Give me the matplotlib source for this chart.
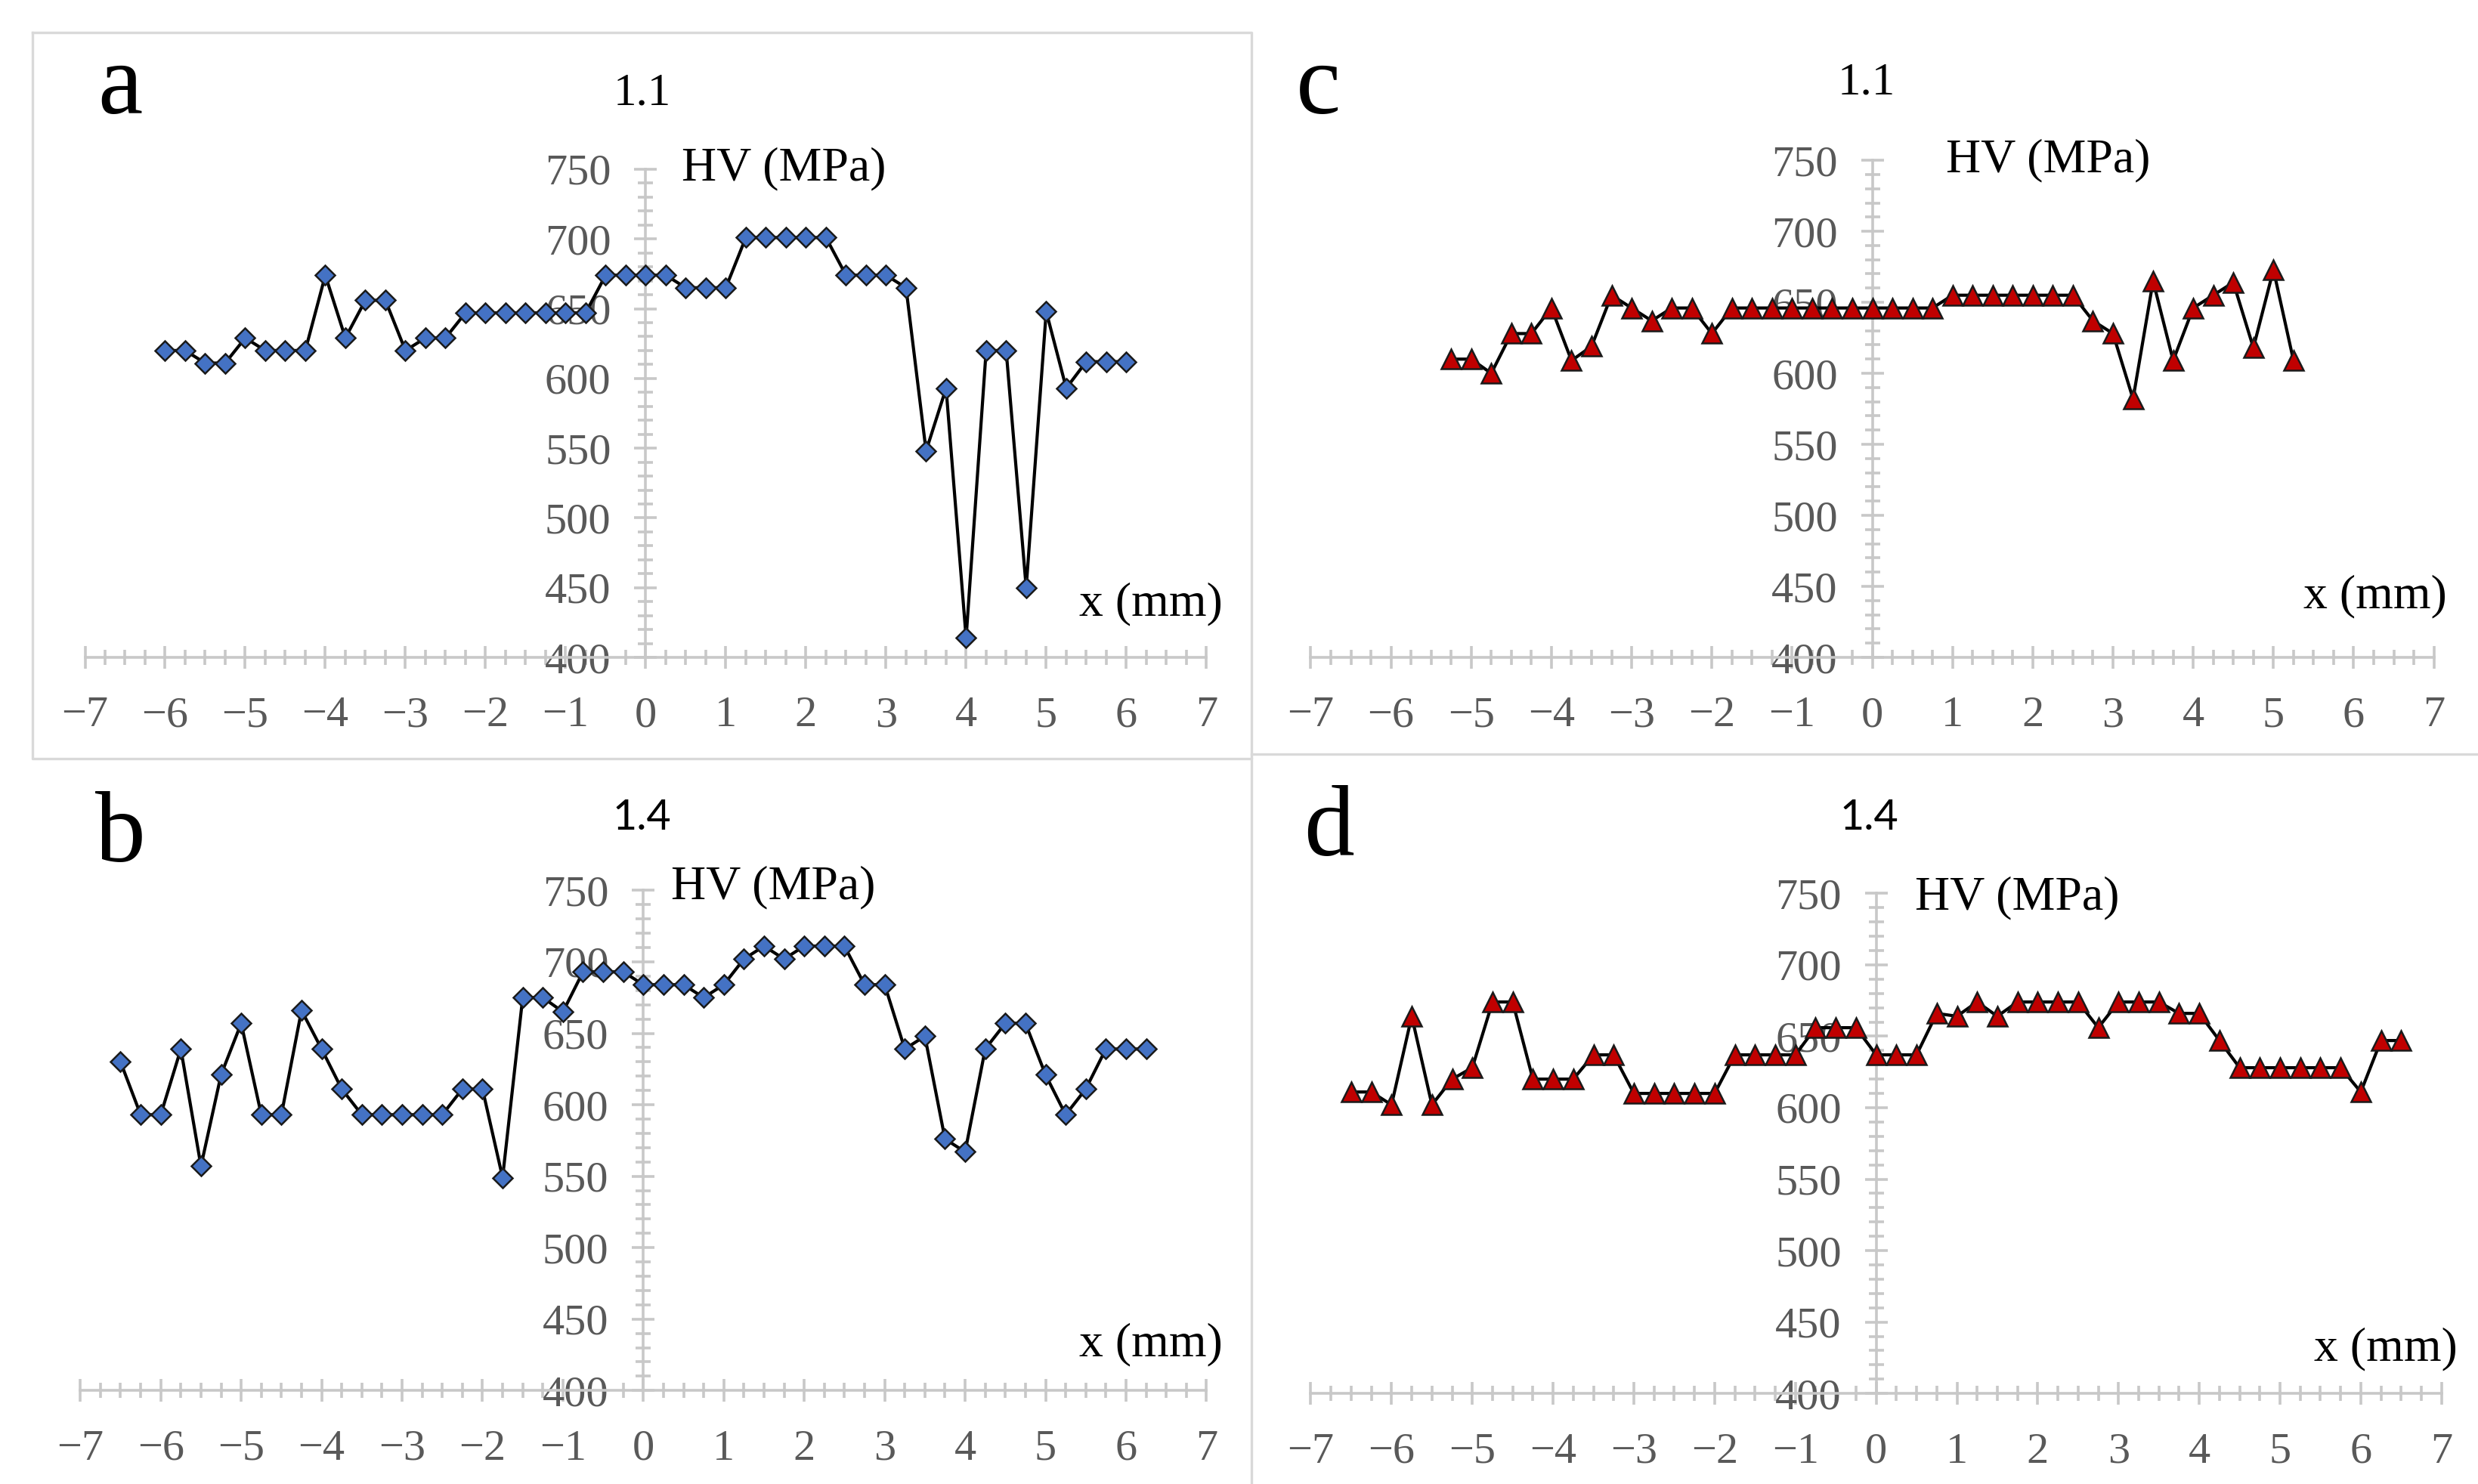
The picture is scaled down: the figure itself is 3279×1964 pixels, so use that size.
# Microhardness profiles HV (MPa) across the weld, four panels a-d
import matplotlib
matplotlib.use('Agg')
import matplotlib.pyplot as plt
from matplotlib.lines import Line2D
from matplotlib.ticker import MultipleLocator

# ---- data ----
x_a = [-6, -5.75, -5.5, -5.25, -5, -4.75, -4.5, -4.25, -4, -3.75, -3.5, -3.25,
       -3, -2.75, -2.5, -2.25, -2, -1.75, -1.5, -1.25, -1, -0.75, -0.5, -0.25,
       0, 0.25, 0.5, 0.75, 1, 1.25, 1.5, 1.75, 2, 2.25, 2.5, 2.75,
       3, 3.25, 3.5, 3.75, 4, 4.25, 4.5, 4.75, 5, 5.25, 5.5, 5.75, 6]
hv_a = [620, 620, 611, 611, 629, 620, 620, 620, 674, 629, 656, 656,
        620, 629, 629, 647, 647, 647, 647, 647, 647, 647, 674, 674,
        674, 674, 665, 665, 665, 701, 701, 701, 701, 701, 674, 674,
        674, 665, 548, 593, 414, 620, 620, 450, 648, 593, 612, 612, 612]

x_b = [-6.5, -6.25, -6, -5.75, -5.5, -5.25, -5, -4.75, -4.5, -4.25, -4, -3.75,
       -3.5, -3.25, -3, -2.75, -2.5, -2.25, -2, -1.75, -1.5, -1.25, -1, -0.75,
       -0.5, -0.25, 0, 0.25, 0.5, 0.75, 1, 1.25, 1.5, 1.75, 2, 2.25,
       2.5, 2.75, 3, 3.25, 3.5, 3.75, 4, 4.25, 4.5, 4.75, 5, 5.25,
       5.5, 5.75, 6, 6.25]
hv_b = [630, 593, 593, 639, 557, 621, 657, 593, 593, 666, 639, 611,
        593, 593, 593, 593, 593, 611, 611, 549, 675, 675, 665, 693,
        693, 693, 684, 684, 684, 675, 684, 702, 711, 702, 711, 711,
        711, 684, 684, 639, 648, 576, 567, 639, 657, 657, 621, 593,
        611, 639, 639, 639]

x_c = [-5.25, -5, -4.75, -4.5, -4.25, -4, -3.75, -3.5, -3.25, -3, -2.75,
       -2.5, -2.25, -2, -1.75, -1.5, -1.25, -1, -0.75, -0.5, -0.25,
       0, 0.25, 0.5, 0.75, 1, 1.25, 1.5, 1.75, 2, 2.25, 2.5, 2.75,
       3, 3.25, 3.5, 3.75, 4, 4.25, 4.5, 4.75, 5, 5.25]
hv_c = [610, 610, 600, 628, 628, 646, 609, 619, 655, 646, 637,
        646, 646, 628, 646, 646, 646, 646, 646, 646, 646,
        646, 646, 646, 646, 655, 655, 655, 655, 655, 655, 655, 637,
        628, 582, 665, 609, 646, 655, 664, 618, 673, 609]

x_d = [-6.5, -6.25, -6, -5.75, -5.5, -5.25, -5, -4.75, -4.5, -4.25, -4, -3.75,
       -3.5, -3.25, -3, -2.75, -2.5, -2.25, -2, -1.75, -1.5, -1.25, -1, -0.75,
       -0.5, -0.25, 0, 0.25, 0.5, 0.75, 1, 1.25, 1.5, 1.75, 2, 2.25,
       2.5, 2.75, 3, 3.25, 3.5, 3.75, 4, 4.25, 4.5, 4.75, 5, 5.25,
       5.5, 5.75, 6, 6.25, 6.5]
hv_d = [611, 611, 602, 664, 602, 620, 628, 674, 674, 620, 620, 620,
        637, 637, 610, 610, 610, 610, 610, 637, 637, 637, 637, 656,
        656, 656, 637, 637, 637, 666, 664, 674, 664, 674, 674, 674,
        674, 656, 674, 674, 674, 666, 666, 647, 628, 628, 628, 628,
        628, 628, 611, 647, 647]

x_ticks = [-7, -6, -5, -4, -3, -2, -1, 0, 1, 2, 3, 4, 5, 6, 7]
y_ticks = [400, 450, 500, 550, 600, 650, 700, 750]

SERIF = ['Liberation Serif', 'DejaVu Serif']
AXIS_GRAY = '#c8c8c8'
LABEL_GRAY = '#595959'

fig = plt.figure(figsize=(16.4, 9.82), dpi=200)


def make_panel(rect, xs, ys, marker, face, ms, hv_pos, xmm_pos):
    ax = fig.add_axes(rect)
    ax.set_xlim(-7, 7)
    ax.set_ylim(400, 750)
    ax.patch.set_alpha(0)
    for s in ['top', 'right']:
        ax.spines[s].set_visible(False)
    ax.spines['left'].set_position(('data', 0))
    ax.spines['bottom'].set_position(('data', 400))
    for s in ['left', 'bottom']:
        ax.spines[s].set_color(AXIS_GRAY)
        ax.spines[s].set_linewidth(1.3)

    ax.set_xticks(x_ticks)
    ax.set_yticks(y_ticks)
    ax.xaxis.set_minor_locator(MultipleLocator(0.25))
    ax.yaxis.set_minor_locator(MultipleLocator(10))
    ax.tick_params(which='major', direction='inout', length=11, width=1.3,
                   color=AXIS_GRAY, labelcolor=LABEL_GRAY, labelsize=21)
    ax.tick_params(which='minor', direction='inout', length=7, width=1.3,
                   color=AXIS_GRAY)
    ax.tick_params(axis='x', which='major', pad=13)
    ax.tick_params(axis='y', which='major', pad=11)
    for lab in ax.get_xticklabels() + ax.get_yticklabels():
        lab.set_fontfamily(SERIF)

    ax.plot(xs, ys, color='black', lw=1.5, marker=marker, ms=ms,
            markerfacecolor=face, markeredgecolor='#1a1a1a',
            markeredgewidth=0.9, zorder=3, clip_on=False)

    ax.text(hv_pos[0], hv_pos[1], 'HV (MPa)', family=SERIF, fontsize=23,
            ha='left', va='center', color='black')
    ax.text(xmm_pos[0], xmm_pos[1], 'x (mm)', family=SERIF, fontsize=23,
            ha='right', va='center', color='black')
    return ax


make_panel([0.0343, 0.557, 0.4524, 0.329], x_a, hv_a, 'D', '#4472C4', 6.5,
           (0.45, 750), (7.2, 438))
make_panel([0.0324, 0.063, 0.4543, 0.337], x_b, hv_b, 'D', '#4472C4', 6.5,
           (0.34, 752), (7.2, 432))
make_panel([0.5288, 0.557, 0.4531, 0.335], x_c, hv_c, '^', '#C00000', 9.5,
           (0.92, 750), (7.16, 443))
make_panel([0.5288, 0.061, 0.4562, 0.337], x_d, hv_d, '^', '#C00000', 9.5,
           (0.48, 747), (7.2, 431))

# panel letters and titles
for lx, ly, letter in [(0.0485, 0.94, 'a'), (0.0485, 0.436, 'b'),
                       (0.532, 0.94, 'c'), (0.536, 0.44, 'd')]:
    fig.text(lx, ly, letter, family=SERIF, fontsize=48, ha='center',
             va='center', color='black')

fig.text(0.259, 0.937, '1.1', family=SERIF, fontsize=22, ha='center', va='center')
fig.text(0.753, 0.944, '1.1', family=SERIF, fontsize=22, ha='center', va='center')
fig.text(0.259, 0.449, '1.4', family=['Lato', 'DejaVu Sans'], fontsize=20,
         ha='center', va='center')
fig.text(0.754, 0.449, '1.4', family=['Lato', 'DejaVu Sans'], fontsize=20,
         ha='center', va='center')

# light frame lines between panels
frame = '#d9d9d9'
fig.add_artist(Line2D([0.013, 0.505, 0.505, 0.013, 0.013],
                      [0.978, 0.978, 0.489, 0.489, 0.978],
                      transform=fig.transFigure, color=frame, lw=1.2))
fig.add_artist(Line2D([0.505, 0.505], [0.489, 0.0],
                      transform=fig.transFigure, color=frame, lw=1.2))
fig.add_artist(Line2D([0.505, 1.0], [0.492, 0.492],
                      transform=fig.transFigure, color=frame, lw=1.2))

fig.savefig('out.png', dpi=200)
